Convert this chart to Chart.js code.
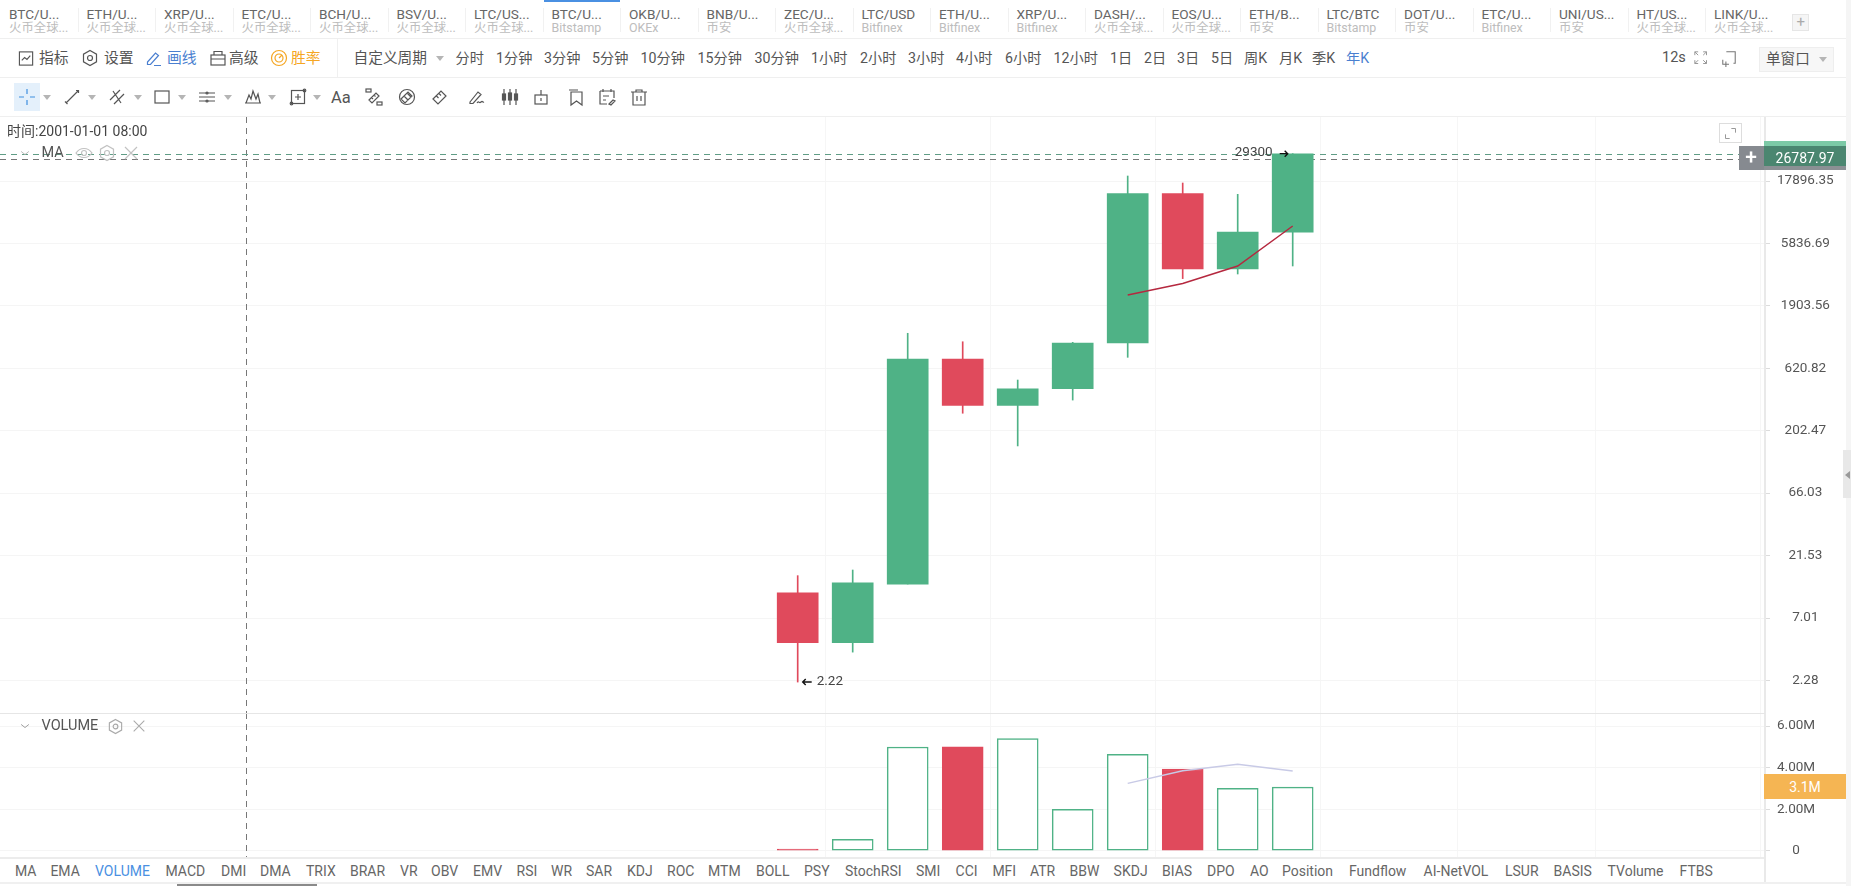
<!DOCTYPE html>
<html lang="zh"><head><meta charset="utf-8"><title>BTC/USD</title>
<script src="https://cdn.jsdelivr.net/npm/chart.js@4/dist/chart.umd.min.js"></script>
<style>
html,body{margin:0;padding:0;background:#fff;width:1851px;height:886px;overflow:hidden;font-family:Roboto,"Noto Sans CJK SC",sans-serif;color:#555}
#root{position:relative;width:1851px;height:886px;overflow:hidden}
.a{position:absolute;white-space:nowrap}
canvas{position:absolute;display:block}
svg{position:absolute;overflow:visible;fill:none}
</style></head><body><div id="root"></div>
<script>
// ---------- chart data ----------
const years      = [2011,2012,2013,2014,2015,2016,2017,2018,2019,2020];
const opens      = [11,4.5,12.9,733,319,430,978,14296,3700,7150];
const closes     = [4.5,13.2,733,319,430,978,14296,3700,7150,29182.59];
const highs      = [15,16.6,1164,1000,503,990,19611,17295,14118,29300];
const lows       = [2.22,3.8,12.9,277,154,351,756,3107,3375,3897];
const volumes    = [80000,550000,4990000,5000000,5400000,1990000,4640000,3930000,3000000,3060000];
const maYears    = [2017,2018,2019,2020];
const maValues   = [2315,2846,3897,7990];
const volMaValues= [3240000,3850000,4160000,3840000];
const priceTicks = [2.28,7.01,21.53,66.03,202.47,620.82,1903.56,5836.69,17896.35];
const volumeTicks= [0,2000000,4000000,6000000];
const gridYears  = [2013,2016,2019,2022,2024,2027];
const crossYear  = 2000.97;
const crossPrice = 26787.97;
const lastPrice  = 29182.59;
const lowLabel   = 2.22;
const highLabel  = 29300;
const tabTop = ["BTC/U...","ETH/U...","XRP/U...","ETC/U...","BCH/U...","BSV/U...","LTC/US...","BTC/U...","OKB/U...","BNB/U...","ZEC/U...","LTC/USD","ETH/U...","XRP/U...","DASH/...","EOS/U...","ETH/B...","LTC/BTC","DOT/U...","ETC/U...","UNI/US...","HT/US...","LINK/U..."];
const tabSub = ["火币全球...","火币全球...","火币全球...","火币全球...","火币全球...","火币全球...","火币全球...","Bitstamp","OKEx","币安","火币全球...","Bitfinex","Bitfinex","Bitfinex","火币全球...","火币全球...","币安","Bitstamp","币安","Bitfinex","币安","火币全球...","火币全球..."];
const periods = [["分时",455.5],["1分钟",496],["3分钟",544],["5分钟",592],["10分钟",640.6],["15分钟",697.5],["30分钟",754.5],["1小时",811],["2小时",860],["3小时",908],["4小时",956],["6小时",1005],["12小时",1053.6],["1日",1110],["2日",1144],["3日",1177],["5日",1211],["周K",1244],["月K",1279],["季K",1312],["年K",1346]];
const indicators = [["MA",15],["EMA",50.4],["VOLUME",95],["MACD",165.5],["DMI",221],["DMA",260],["TRIX",306],["BRAR",350],["VR",400],["OBV",431],["EMV",473],["RSI",516.6],["WR",551],["SAR",586],["KDJ",627],["ROC",667],["MTM",708],["BOLL",756],["PSY",804],["StochRSI",845],["SMI",916],["CCI",955.6],["MFI",992.4],["ATR",1030],["BBW",1069.6],["SKDJ",1113.6],["BIAS",1162],["DPO",1207],["AO",1250],["Position",1282],["Fundflow",1349],["AI-NetVOL",1423.6],["LSUR",1505],["BASIS",1553.6],["TVolume",1607.6],["FTBS",1679.5]];

// ---------- page chrome ----------
const root=document.getElementById('root');
function T(text,x,cy,size,color,extra){const d=document.createElement('div');d.className='a';d.textContent=text;
  d.style.cssText=`left:${x}px;top:${cy-12}px;height:24px;line-height:24px;font-size:${size}px;color:${color};`+(extra||'');root.appendChild(d);return d;}
function R(x,y,w,h,css){const d=document.createElement('div');d.className='a';d.style.cssText=`left:${x}px;top:${y}px;width:${w}px;height:${h}px;${css}`;root.appendChild(d);return d;}
function I(x,cy,inner,color,w){const s=document.createElementNS('http://www.w3.org/2000/svg','svg');w=w||18;
  s.setAttribute('viewBox','0 0 18 18');s.setAttribute('width',w);s.setAttribute('height',w);
  s.style.left=x+'px';s.style.top=(cy-w/2)+'px';s.setAttribute('stroke',color||'#555');s.setAttribute('stroke-width','1.2');s.innerHTML=inner;root.appendChild(s);}
const caret=(x,cy)=>{const s=R(x,cy-2.5,0,0,'border-left:4px solid transparent;border-right:4px solid transparent;border-top:5px solid #b5b5b5;');};

// tabs
R(0,38,1851,1,'background:#efefef');R(0,77,1846,1,'background:#efefef');R(0,116,1846,1,'background:#efefef');
tabTop.forEach((t,i)=>{const x=9+77.5*i;
  T(t,x,13.5,13.6,'#666');T(tabSub[i],x,28,12.4,'#bdbdbd');
  if(i>0)R(x-9,8,1,24,'background:#f1f1f1');});
R(544,0,76,2,'background:#4a90e2');R(544,2,76,36,'background:#fdfdfd;z-index:-1');
R(1792,14,17,17,'background:#f5f5f5;border:1px solid #e6e6e6;box-sizing:border-box');T('+',1796.5,22,15,'#aaa');

// second row
I(18,58,'<rect x="1.5" y="2" width="14" height="14"/><path d="M4 11l3-3 2.5 2L13 6"/>','#555',17);
T('指标',39,58,14.8,'#555');
I(81,58,'<path d="M9 1.5l6.5 3.7v7.6L9 16.5l-6.500-3.700V5.200z"/><circle cx="9" cy="9" r="2.500"/>','#555');
T('设置',104,58,14.8,'#555');
I(145,58,'<path d="M2.500 13l8-9 3 2.500-8 9H2.500zM9 16.500h7"/>','#4a7fd0');
T('画线',167,58,14.8,'#4a7fd0');
I(209,58,'<rect x="2" y="6" width="14" height="10"/><path d="M5 6V2.500h8V6M2 10h14"/>','#555');
T('高级',229,58,14.8,'#555');
I(270,58,'<circle cx="9" cy="9" r="7.500"/><circle cx="9" cy="9" r="4"/><path d="M9 9l3-3"/>','#f5a623');
T('胜率',291,58,14.8,'#f5a623');
R(337,39,1,38,'background:#f0f0f0');
T('自定义周期',353.5,58,14.7,'#555');caret(436,58);
periods.forEach(([t,x])=>T(t,x,58,14.2,t==='年K'?'#4a7fd0':'#555'));
T('12s',1662,58,14.5,'#555');
I(1694,58,'<path d="M1 1h4M1 1v4M1 1l4 4M15 1h-4M15 1v4M15 1l-4 4M1 15h4M1 15v-4M1 15l4-4M15 15h-4M15 15v-4M15 15l-4-4" stroke-dasharray="none"/>','#999',15);
I(1721,58,'<path d="M6 2h10v13h-2M2 11v5h7M5.500 13v6M3 16h5" />','#777',16);
R(1758.500,47,75,25,'background:#f7f7f7;border:1px solid #eee;box-sizing:border-box');
T('单窗口',1766,59,14.600,'#555');caret(1819,59);

// third row
R(14,83,26,28,'background:#e4f0fb');
I(18,97,'<path d="M1 9h5M12 9h5M9 1v5M9 12v5"/>','#3f8fe0');
const iconRow=[
 [72,'<path d="M3 15L15 3M13 2.500h2.500V5M2 13.500L4.500 16"/>'],
 [117,'<path d="M2 12L12 2M6 16L16 6M5 3l8 12"/>'],
 [162,'<rect x="2" y="3" width="14" height="12"/>'],
 [207,'<path d="M1 5h16M1 13h16M1 9h16"/><circle cx="9" cy="5" r="1"/><circle cx="9" cy="13" r="1"/>'],
 [253,'<path d="M1 15h16M2 15l3-8 2 4 2-8 3 8 2-5 2 9"/>'],
 [298,'<rect x="2.500" y="2.500" width="13" height="13"/><path d="M6 9h6M9 6v6"/><circle cx="2.500" cy="15.500" r="1.300"/><circle cx="15.500" cy="2.500" r="1.300"/>'],
 [374,'<rect x="1" y="1" width="5" height="3"/><rect x="12" y="14" width="5" height="3"/><path d="M4 12l7-7 3 3-7 7zM6.500 9.500l1.500 1.500M9 7l1.500 1.500"/>'],
 [407,'<path d="M3 11l7-7 4 4-7 7zM6 8l4 4M9 5l4 4"/><circle cx="9" cy="9" r="7.500"/>'],
 [440,'<path d="M2 11l8-8 5 5-8 8zM5.500 8l2 2M8 5.500l2 2"/>'],
 [477,'<path d="M2 14l8-10 3 2.500-8 9H2zM9 15c2-3 2 1 4-1s1 1 3 0"/>'],
 [510,'<path d="M3 1v16M9 1v16M15 1v16"/><rect x="1.500" y="6" width="3" height="6" fill="#555"/><rect x="7.500" y="5" width="3" height="7" fill="#555"/><rect x="13.500" y="6" width="3" height="6" fill="#555"/>'],
 [541,'<rect x="3" y="7" width="12" height="9"/><path d="M9 2v5M9 10v3"/>'],
 [575,'<path d="M3 2h9M5 4h11v13l-5.500-4L5 17z"/>'],
 [607,'<path d="M2 3h14v7M2 3v13h7M5 1v3M13 1v3M5 8h6M5 12h3M11 16l4-4 2 1-4 4z"/>'],
 [639,'<path d="M1 4h16M6 4V2h6v2M3 4v13h12V4M7 8v5M11 8v5"/>']];
iconRow.forEach(([x,p])=>I(x-9,97,p,'#555'));
[47,92,138,182,228,272,317].forEach(x=>caret(x-4,97));
T('Aa',331,98,16.5,'#555');

// ---------- charts ----------
const green='#4fb286',red='#e04a5c';
const PLOT_W=1765,RIGHT_W=81;
const xMin=2011-797.7/55, xMax=2011+(PLOT_W-797.7)/55;
function mk(cls,top,h){const c=document.createElement('canvas');c.width=PLOT_W+RIGHT_W;c.height=h;
  c.style.cssText=`left:0;top:${top}px;width:${PLOT_W+RIGHT_W}px;height:${h}px`;root.appendChild(c);return c;}
const isUp=i=>closes[i]>=opens[i];
const gridColor='#f5f5f5',axisColor='#e9e9e9';
const xScale={type:'linear',min:xMin,max:xMax,offset:false,
  afterBuildTicks:s=>{s.ticks=gridYears.map(v=>({value:v}));},
  ticks:{display:false},grid:{color:'#f6f6f6',drawTicks:false,lineWidth:1},border:{display:false},
  afterFit:s=>{s.height=0;s.paddingLeft=0;s.paddingRight=0;}};
const yScale=(extra)=>Object.assign({position:'right',
  afterFit:s=>{s.width=RIGHT_W;s.paddingTop=0;s.paddingBottom=0;},
  grid:{color:gridColor,tickColor:'#dcdcdc',tickLength:5,lineWidth:1},
  border:{color:axisColor,width:2}},extra);
function crossV(chart){const {ctx,chartArea:a,scales:{x}}=chart;ctx.save();ctx.strokeStyle='#777';ctx.lineWidth=1;ctx.setLineDash([6,5]);
  const px=Math.round(x.getPixelForValue(crossYear))+.5;ctx.beginPath();ctx.moveTo(px,a.top);ctx.lineTo(px,a.bottom);ctx.stroke();ctx.restore();}
const base={responsive:false,animation:false,devicePixelRatio:1,maintainAspectRatio:false,
  layout:{padding:0},plugins:{legend:{display:false},tooltip:{enabled:false}},events:[]};

// price pane
const Y0=368.3,K=0.017955,V0=620.82;
new Chart(mk('p',117,596),{
  data:{datasets:[
    {type:'line',label:'MA',data:maYears.map((x,i)=>({x,y:maValues[i]})),borderColor:'#b5283f',borderWidth:1.5,pointRadius:0,tension:0,order:0},
    {type:'bar',label:'body',data:years.map((x,i)=>({x,y:[opens[i],closes[i]]})),barThickness:41,grouped:false,
      backgroundColor:years.map((_,i)=>isUp(i)?green:red),order:1},
    {type:'bar',label:'wick',data:years.map((x,i)=>({x,y:[lows[i],highs[i]]})),barThickness:1,grouped:false,
      backgroundColor:years.map((_,i)=>isUp(i)?green:red),order:2}]},
  options:Object.assign({},base,{scales:{x:xScale,
    y:yScale({type:'logarithmic',min:V0*Math.exp(K*(Y0-713)),max:V0*Math.exp(K*(Y0-117)),
      afterBuildTicks:s=>{s.ticks=priceTicks.map(v=>({value:v}));},
      ticks:{autoSkip:false,crossAlign:'center',padding:7,color:'#555',font:{family:'Roboto',size:13.5},
             callback:v=>Number(v).toFixed(2)}})}}),
  plugins:[{id:'marks',
    beforeDatasetsDraw(c){crossV(c);const {ctx,chartArea:a,scales:{y}}=c;ctx.save();ctx.lineWidth=1;ctx.setLineDash([6,5]);
      ctx.strokeStyle='#5f9c85';let py=Math.round(y.getPixelForValue(lastPrice))+.5;ctx.beginPath();ctx.moveTo(a.left,py);ctx.lineTo(a.right,py);ctx.stroke();
      ctx.strokeStyle='#777';py=Math.round(y.getPixelForValue(crossPrice))+.5;ctx.beginPath();ctx.moveTo(a.left,py);ctx.lineTo(a.right,py);ctx.stroke();ctx.restore();},
    afterDatasetsDraw(c){const {ctx,scales:{x,y}}=c;ctx.save();ctx.textBaseline='middle';
      let px=x.getPixelForValue(years[0]),py=y.getPixelForValue(lowLabel);
      ctx.font='13.5px Roboto';ctx.fillStyle='#444';ctx.textAlign='left';ctx.fillText(lowLabel.toFixed(2),px+19,py);
      ctx.strokeStyle='#111';ctx.lineWidth=1.4;ctx.beginPath();ctx.moveTo(px+14,py);ctx.lineTo(px+5,py);ctx.moveTo(px+8,py-3);ctx.lineTo(px+5,py);ctx.lineTo(px+8,py+3);ctx.stroke();
      px=x.getPixelForValue(years[9]);py=y.getPixelForValue(highLabel);
      ctx.textAlign='right';ctx.fillText(String(highLabel),px-20,py-1);
      ctx.beginPath();ctx.moveTo(px-13,py);ctx.lineTo(px-5,py);ctx.moveTo(px-8,py-3);ctx.lineTo(px-5,py);ctx.lineTo(px-8,py+3);ctx.stroke();
      ctx.restore();}}]
});

// volume pane
new Chart(mk('v',713,144),{
  data:{datasets:[
    {type:'line',label:'VOLMA',data:maYears.map((x,i)=>({x,y:volMaValues[i]})),borderColor:'#c8cae6',borderWidth:1.5,pointRadius:0,tension:0,order:0},
    {type:'bar',label:'volume',data:years.map((x,i)=>({x,y:volumes[i]})),barThickness:41,grouped:false,
      backgroundColor:years.map((_,i)=>isUp(i)?'#ffffff':red),
      borderColor:years.map((_,i)=>isUp(i)?green:red),borderWidth:1.5,borderSkipped:false,order:1}]},
  options:Object.assign({},base,{scales:{x:xScale,
    y:yScale({type:'linear',min:-303000,max:6627000,
      afterBuildTicks:s=>{s.ticks=volumeTicks.map(v=>({value:v}));},
      ticks:{autoSkip:false,crossAlign:'center',padding:7,color:'#555',font:{family:'Roboto',size:13.5},
             callback:v=>v===0?'0':(v/1e6).toFixed(2)+'M'}})}}),
  plugins:[{id:'cross',beforeDatasetsDraw(c){crossV(c);}}]
});

// ---------- overlays ----------
R(0,713,1765,1,'background:#e6e6e6');
R(0,857,1765,1.5,'background:#ececec');
R(0,882,1851,2,'background:#f0f0f0');
R(1846,0,5,886,'background:#f5f5f5');
R(1764,857,2,25,'background:#e9e9e9');
R(177,884,140,2,'background:#8a8a8a');
R(1843,450,8,48,'background:#e8e8e8');
R(1845,471,0,0,'border-top:4px solid transparent;border-bottom:4px solid transparent;border-right:5px solid #999');

T('时间:2001-01-01 08:00',7,131,14,'#444');
I(18,153,'<path d="M4 7l5 4 5-4"/>','#b5b5b5',14);
T('MA',41.5,153,14.5,'#555');
I(75,153,'<path d="M1 9c4-6 12-6 16 0-4 6-12 6-16 0z"/><circle cx="9" cy="9" r="2.500"/>','#c2c2c2');
I(98,153,'<path d="M9 1.500l6.500 3.700v7.600L9 16.500l-6.500-3.700V5.200z"/><circle cx="9" cy="9" r="2.500"/>','#c2c2c2');
I(122,153,'<path d="M3 3l12 12M15 3L3 15"/>','#c2c2c2');
T('VOLUME',41.5,726,14.500,'#555');
I(107,726,'<path d="M9 1.500l6.500 3.700v7.600L9 16.500l-6.500-3.700V5.200z"/><circle cx="9" cy="9" r="2.500"/>','#aaa',17);
I(131,726,'<path d="M3 3l12 12M15 3L3 15"/>','#aaa',16);
I(18,726,'<path d="M4 7l5 4 5-4"/>','#999',14);

R(1719,123,23,20,'background:#fff;border:1px solid #ddd;box-sizing:border-box');
I(1723,133,'<path d="M10 3h5v5M3 10v5h5"/>','#999',15);

// price labels
R(1764,141,82,25,'background:#7cc9a6');
R(1764,145.500,82,24.500,'background:#4b8670');
R(1764,165.500,82,4.500,'background:#8b9094');
T('26787.97',1764,158,14,'#fff','width:82px;text-align:center;');
R(1738.500,145.500,25,24.500,'background:#868a90');
T('+',1738.500,157,21,'#fff','width:25px;text-align:center;font-weight:500;');
R(1764,774,82,25,'background:#f5b553');
T('3.1M',1764,786.500,14,'#fff','width:82px;text-align:center;');

indicators.forEach(([t,x])=>T(t,x,870.5,14,t==='VOLUME'?'#4a90e2':'#666'));
</script></body></html>
